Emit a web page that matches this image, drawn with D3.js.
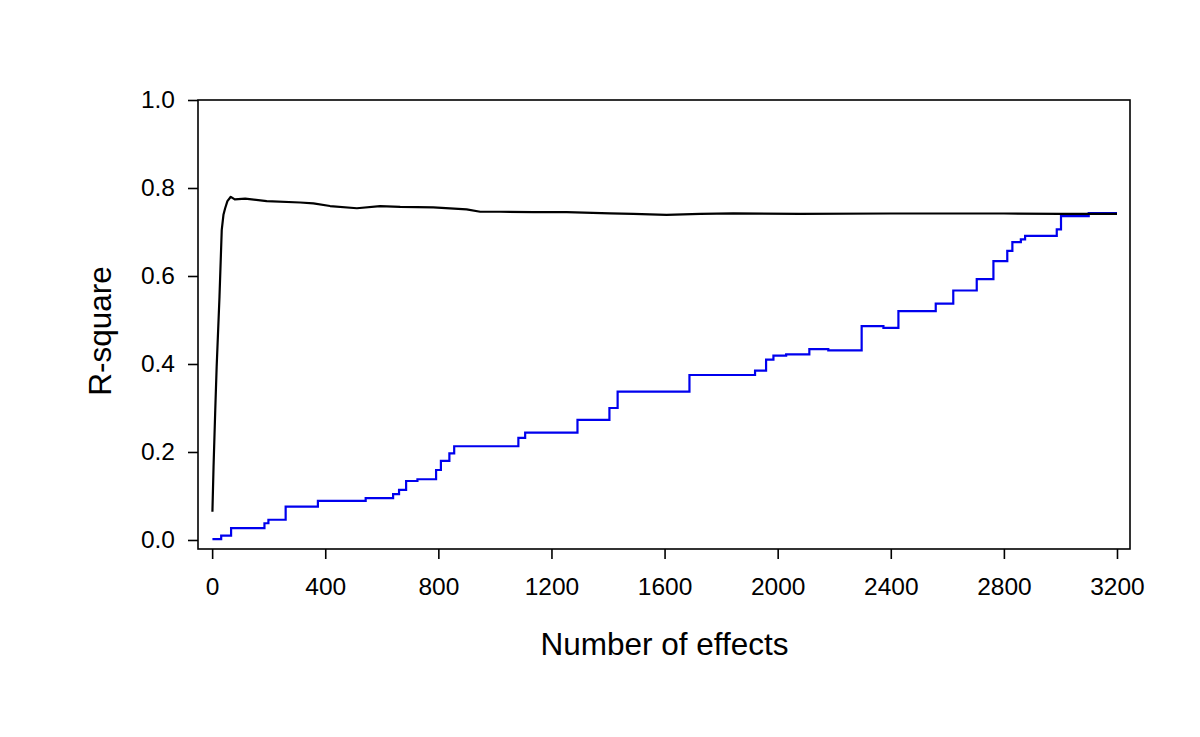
<!DOCTYPE html>
<html>
<head>
<meta charset="utf-8">
<script src="https://cdn.jsdelivr.net/npm/d3@7"></script>
<style>
  html, body { margin: 0; padding: 0; background: #fff; }
  svg { display: block; }
  text { font-family: "Liberation Sans", Arial, Helvetica, sans-serif; fill: #000; }
</style>
</head>
<body>
<svg id="chart" width="1200" height="737"></svg>
<script>
// ---- data ----
const xTicks = [0, 400, 800, 1200, 1600, 2000, 2400, 2800, 3200];
const yTicks = [0.0, 0.2, 0.4, 0.6, 0.8, 1.0];
const xTitle = "Number of effects";
const yTitle = "R-square";

// black curve: cumulative R-square (effects sorted by importance)
const topX = [1, 5, 11, 16, 26, 34, 40, 46, 54, 66, 80, 117, 193, 311, 358, 417, 512, 594, 665, 782, 900, 948, 1018, 1136, 1254, 1407, 1489, 1607, 1726, 1843, 2079, 2400, 2800, 3000, 3200];
const topY = [0.064, 0.167, 0.295, 0.394, 0.553, 0.705, 0.739, 0.754, 0.770, 0.780, 0.774, 0.776, 0.770, 0.767, 0.765, 0.759, 0.754, 0.759, 0.757, 0.756, 0.7515, 0.746, 0.746, 0.745, 0.745, 0.7425, 0.741, 0.739, 0.741, 0.7425, 0.741, 0.742, 0.742, 0.741, 0.741];

// blue curve: cumulative R-square (effects in original order), step function
const stepX = [1, 32, 67, 185, 199, 260, 374, 543, 640, 661, 686, 726, 792, 809, 839, 856, 1083, 1107, 1292, 1405, 1434, 1688, 1920, 1959, 1985, 2030, 2112, 2179, 2297, 2374, 2427, 2559, 2621, 2704, 2763, 2812, 2830, 2860, 2875, 2987, 3002, 3100, 3200];
const stepY = [0.002, 0.010, 0.027, 0.038, 0.046, 0.076, 0.089, 0.095, 0.104, 0.114, 0.134, 0.138, 0.159, 0.180, 0.197, 0.213, 0.232, 0.244, 0.273, 0.300, 0.337, 0.375, 0.385, 0.410, 0.419, 0.422, 0.434, 0.431, 0.486, 0.482, 0.520, 0.537, 0.567, 0.593, 0.634, 0.657, 0.677, 0.683, 0.691, 0.706, 0.736, 0.743, 0.743];

// ---- layout ----
const box = { left: 198, right: 1130, top: 100, bottom: 549 };
const svg = d3.select("#chart");

const x = d3.scaleLinear().domain([-50, 3246]).range([box.left, box.right]);
const y = d3.scaleLinear().domain([-0.0205, 1.0]).range([box.bottom, box.top]);

// axes
const xAxis = d3.axisBottom(x).tickValues(xTicks).tickSize(10).tickPadding(18.5).tickFormat(d3.format("d"));
const yAxis = d3.axisLeft(y).tickValues(yTicks).tickSize(10).tickPadding(13).tickFormat(d3.format(".1f"));

const gx = svg.append("g").attr("transform", `translate(0,${box.bottom})`).call(xAxis);
const gy = svg.append("g").attr("transform", `translate(${box.left},0)`).call(yAxis);
[gx, gy].forEach(g => {
  g.select(".domain").remove();
  g.selectAll(".tick line").attr("stroke", "#000").attr("stroke-width", 1.6);
  g.selectAll(".tick text").style("font-size", "24.5px").attr("fill", "#000")
    .style("font-family", '"Liberation Sans", Arial, sans-serif');
});

// lines
const topData = topX.map((d, i) => [d, topY[i]]);
const stepData = stepX.map((d, i) => [d, stepY[i]]);

svg.append("path")
  .datum(stepData)
  .attr("fill", "none")
  .attr("stroke", "#0000ee")
  .attr("stroke-width", 2.2)
  .attr("d", d3.line().x(d => x(d[0])).y(d => y(d[1])).curve(d3.curveStepAfter));

svg.append("path")
  .datum(topData)
  .attr("fill", "none")
  .attr("stroke", "#000")
  .attr("stroke-width", 2.2)
  .attr("stroke-linejoin", "round")
  .attr("d", d3.line().x(d => x(d[0])).y(d => y(d[1])));

// box
svg.append("rect")
  .attr("x", box.left).attr("y", box.top)
  .attr("width", box.right - box.left).attr("height", box.bottom - box.top)
  .attr("fill", "none").attr("stroke", "#000").attr("stroke-width", 1.6);

// titles
svg.append("text")
  .attr("x", 664.5).attr("y", 655)
  .attr("text-anchor", "middle")
  .style("font-size", "31.5px")
  .text(xTitle);

svg.append("text")
  .attr("transform", `translate(111,331) rotate(-90)`)
  .attr("text-anchor", "middle")
  .style("font-size", "31.5px")
  .text(yTitle);
</script>
</body>
</html>
